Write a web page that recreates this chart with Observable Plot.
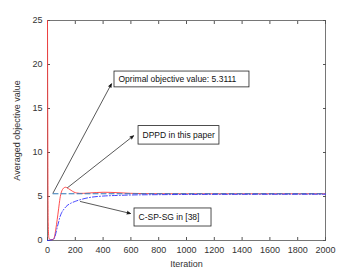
<!DOCTYPE html>
<html><head><meta charset="utf-8">
<script src="https://cdn.jsdelivr.net/npm/d3@7"></script>
<script src="https://cdn.jsdelivr.net/npm/@observablehq/plot@0.6"></script>
<style>body{margin:0;background:#fff}</style>
</head><body><div id="chart"></div>
<script>
const iterRed = [0, 5, 10, 20, 40, 50, 55, 60, 70, 80, 90, 100, 110, 120, 130, 140, 150, 170, 190, 210, 230, 260, 300, 350, 400, 450, 500, 550, 600, 700, 800, 1000, 2000];
const dppd    = [25, 2, 0.3, 0.1, 0.1, 0.4, 0.8, 1.3, 2.4, 3.6, 4.8, 5.5, 5.85, 6.0, 6.05, 6.0, 5.9, 5.7, 5.5, 5.4, 5.36, 5.36, 5.4, 5.45, 5.48, 5.47, 5.44, 5.4, 5.36, 5.33, 5.32, 5.31, 5.31];
const iterBlue = [0, 20, 40, 50, 60, 70, 80, 90, 100, 120, 140, 170, 200, 250, 300, 400, 500, 600, 800, 1000, 1500, 2000];
const cspsg    = [0, 0.05, 0.1, 0.3, 0.8, 1.5, 2.1, 2.7, 3.1, 3.6, 3.95, 4.25, 4.45, 4.7, 4.88, 5.05, 5.12, 5.17, 5.21, 5.23, 5.25, 5.26];
const optimal = 5.3111;
const optimalRange = [40, 2000];
const xTicks = [0, 200, 400, 600, 800, 1000, 1200, 1400, 1600, 1800, 2000];
const yTicks = [0, 5, 10, 15, 20, 25];
const labels = ["Oprimal objective value: 5.3111", "DPPD in this paper", "C-SP-SG in [38]"];
const boxX1 = [482, 655, 626];
const boxX2 = [1453, 1237, 1180];
const boxY1 = [17.4, 10.9, 1.59];
const boxY2 = [19.2, 13.0, 3.64];
const arrowX1 = [40, 144, 237];
const arrowY1 = [5.4, 6.0, 4.43];
const arrowX2 = [460, 619, 597];
const arrowY2 = [17.8, 11.9, 3.07];

const red = iterRed.map((x, i) => ({x, y: dppd[i]}));
const blue = iterBlue.map((x, i) => ({x, y: cspsg[i]}));
const opt = optimalRange.map(x => ({x, y: optimal}));
const ann = labels.map((t, i) => ({t, x1: boxX1[i], x2: boxX2[i], y1: boxY1[i], y2: boxY2[i],
  ax1: arrowX1[i], ay1: arrowY1[i], ax2: arrowX2[i], ay2: arrowY2[i]}));

const chart = Plot.plot({
  width: 360, height: 270,
  marginLeft: 47, marginRight: 35, marginTop: 20, marginBottom: 30,
  style: {fontFamily: "'Liberation Sans', Arial, sans-serif", fontSize: "9px", color: "#333", background: "#fff"},
  x: {domain: [0, 2000]},
  y: {domain: [0, 25]},
  marks: [
    Plot.frame({stroke: "#555", strokeWidth: 0.8}),
    Plot.axisX(xTicks, {anchor: "bottom", tickSize: 0, tickPadding: 6, tickFormat: d => String(d), label: "Iteration", labelAnchor: "center", labelArrow: "none", labelOffset: 26}),
    Plot.axisX(xTicks, {anchor: "bottom", tickSize: -3, text: null, label: null, stroke: "#555"}),
    Plot.axisX(xTicks, {anchor: "top", tickSize: -3, text: null, label: null, stroke: "#555"}),
    Plot.axisY(yTicks, {anchor: "left", tickSize: 0, tickPadding: 5, tickFormat: d => String(d), label: "Averaged objective value", labelAnchor: "center", labelArrow: "none", labelOffset: 34}),
    Plot.axisY(yTicks, {anchor: "left", tickSize: -3, text: null, label: null, stroke: "#555"}),
    Plot.axisY(yTicks, {anchor: "right", tickSize: -3, text: null, label: null, stroke: "#555"}),
    Plot.line(red, {x: "x", y: "y", stroke: "#ff3b3b", strokeWidth: 1, strokeOpacity: 0.9, curve: "monotone-x"}),
    Plot.line(opt, {x: "x", y: "y", stroke: "#2f78b8", strokeWidth: 1, strokeDasharray: "5,3"}),
    Plot.line(blue, {x: "x", y: "y", stroke: "#3030ff", strokeWidth: 0.9, strokeDasharray: "5,2,1,2", curve: "monotone-x"}),
    Plot.arrow(ann, {x1: "ax1", y1: "ay1", x2: "ax2", y2: "ay2", stroke: "#111", fill: "#111", strokeWidth: 0.7, headLength: 8, headAngle: 45}),
    Plot.rect(ann, {x1: "x1", x2: "x2", y1: "y1", y2: "y2", fill: "white", stroke: "#222", strokeWidth: 0.8}),
    Plot.text(ann, {x: "x1", y: d => (d.y1 + d.y2) / 2, text: "t", textAnchor: "start", dx: 4, fontSize: 8.5, fill: "#111"})
  ]
});
document.getElementById("chart").append(chart);
</script>
</body></html>
